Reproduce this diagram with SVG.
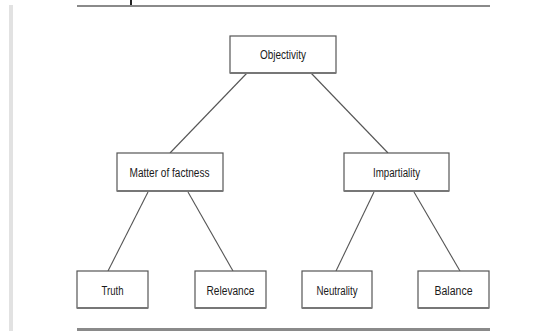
<svg xmlns="http://www.w3.org/2000/svg" width="539" height="331" viewBox="0 0 539 331">
<style>
.box{fill:#fff;stroke:#555;stroke-width:1.2}
.sh{stroke:#777;stroke-width:2}
.lbl{font-family:"Liberation Sans",Arial,sans-serif;font-size:12.5px;fill:#1a1a1a;text-anchor:middle}
.con{stroke:#555;stroke-width:1.1;fill:none}
.rule{fill:#8a8a8a}
</style>
<rect x="0" y="0" width="539" height="331" fill="#fff"/>
<rect x="9" y="5" width="4" height="326" fill="#e2e2e2"/>
<rect x="130" y="0" width="2" height="5" fill="#222"/>
<rect class="rule" x="77" y="5" width="413" height="2"/>
<rect class="rule" x="77" y="328" width="413" height="3"/>
<g id="connectors">
<line class="con" x1="247" y1="73" x2="170" y2="153"/>
<line class="con" x1="311" y1="73" x2="388" y2="153"/>
<line class="con" x1="148" y1="192" x2="108" y2="271"/>
<line class="con" x1="188" y1="192" x2="233" y2="271"/>
<line class="con" x1="374" y1="192" x2="336" y2="271"/>
<line class="con" x1="414" y1="192" x2="460" y2="271"/>
</g>
<g id="objectivity">
<rect class="box" x="230" y="36" width="106" height="37"/>
<line class="sh" x1="230" y1="73" x2="336" y2="73"/>
<text class="lbl" x="283" y="59" textLength="46" lengthAdjust="spacingAndGlyphs">Objectivity</text>
</g>
<g id="matter">
<rect class="box" x="117" y="153" width="106" height="38"/>
<line class="sh" x1="117" y1="191" x2="223" y2="191"/>
<text class="lbl" x="169.5" y="177" textLength="80" lengthAdjust="spacingAndGlyphs">Matter of factness</text>
</g>
<g id="impartiality">
<rect class="box" x="344" y="153" width="105" height="38"/>
<line class="sh" x1="344" y1="191" x2="449" y2="191"/>
<text class="lbl" x="396.5" y="177" textLength="47" lengthAdjust="spacingAndGlyphs">Impartiality</text>
</g>
<g id="truth">
<rect class="box" x="77" y="271" width="71" height="37"/>
<line class="sh" x1="77" y1="308" x2="148" y2="308"/>
<text class="lbl" x="112.5" y="295" textLength="22" lengthAdjust="spacingAndGlyphs">Truth</text>
</g>
<g id="relevance">
<rect class="box" x="195" y="271" width="71" height="37"/>
<line class="sh" x1="195" y1="308" x2="266" y2="308"/>
<text class="lbl" x="230.5" y="295" textLength="48" lengthAdjust="spacingAndGlyphs">Relevance</text>
</g>
<g id="neutrality">
<rect class="box" x="302" y="271" width="70" height="37"/>
<line class="sh" x1="302" y1="308" x2="372" y2="308"/>
<text class="lbl" x="337" y="295" textLength="41" lengthAdjust="spacingAndGlyphs">Neutrality</text>
</g>
<g id="balance">
<rect class="box" x="418" y="271" width="71" height="37"/>
<line class="sh" x1="418" y1="308" x2="489" y2="308"/>
<text class="lbl" x="453.5" y="295" textLength="38" lengthAdjust="spacingAndGlyphs">Balance</text>
</g>
</svg>
